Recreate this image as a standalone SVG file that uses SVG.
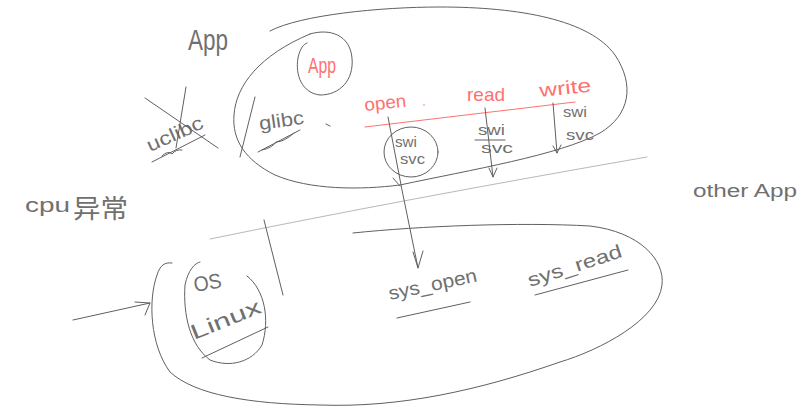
<svg xmlns="http://www.w3.org/2000/svg" width="805" height="414" viewBox="0 0 805 414">
<defs>
<style>
.ln{fill:none;stroke:#606060;stroke-width:1;stroke-linecap:round;stroke-linejoin:round}
.lt{fill:none;stroke:#b8b8b8;stroke-width:1;stroke-linecap:round}
.rd{fill:none;stroke:#ff7070;stroke-width:1;stroke-linecap:round}
.t{font-family:"Liberation Sans","Noto Sans CJK SC",sans-serif;fill:#707070;font-weight:normal}
.tr{font-family:"Liberation Sans",sans-serif;fill:#ff7070}
</style>
</defs>
<rect width="805" height="414" fill="#fff"/>

<g id="user-space">
<path class="ln" d="M270,31 C300,15 380,7 440,7 C520,7 590,20 615,55 C635,85 630,115 600,133 C560,155 470,170 400,185 C360,190 310,190 275,175 C245,160 232,140 234,115 C236,85 260,55 310,34"/>
</g>

<g id="app-label">
<text class="t" x="188" y="50" font-size="30" textLength="40" lengthAdjust="spacingAndGlyphs">App</text>
</g>

<g id="app-circle">
<path class="ln" d="M310,34 C330,28 350,35 352,58 C354,80 340,95 320,95 C302,93 295,75 298,58 C300,48 304,44 307,43"/>
<text class="tr" x="308" y="73" font-size="22" textLength="28" lengthAdjust="spacingAndGlyphs">App</text>
</g>

<g id="uclibc">
<text class="t" x="150" y="152" font-size="19" textLength="60" lengthAdjust="spacingAndGlyphs" transform="rotate(-24 150 152)">uclibc</text>
<path class="ln" d="M145,98 L218,148 M152,162 L205,135 M186,87 L176,148 M162,156 q6,-6 10,-2 q4,-5 10,-4"/>
</g>

<g id="glibc">
<path class="ln" d="M255,97 L240,157"/>
<text class="t" x="260" y="130" font-size="19" textLength="45" lengthAdjust="spacingAndGlyphs" transform="rotate(-8 260 130)">glibc</text>
<path class="ln" d="M258,152 L300,130 M262,150 q10,-2 14,-8 q8,0 18,-9"/>
<path class="ln" d="M326,124 L330,126"/>
</g>

<g id="syscalls">
<text class="tr" x="365" y="111" font-size="18" textLength="42" lengthAdjust="spacingAndGlyphs" transform="rotate(-6 365 111)">open</text>
<circle cx="424" cy="105" r="0.8" fill="#ff7070"/>
<text class="tr" x="467" y="101" font-size="19" textLength="38" lengthAdjust="spacingAndGlyphs">read</text>
<text class="tr" x="540" y="97" font-size="19" textLength="52" lengthAdjust="spacingAndGlyphs" transform="rotate(-6 540 97)">write</text>
<path class="rd" d="M365,127 L575,102"/>
</g>

<g id="svc-open">
<ellipse class="ln" cx="411" cy="152" rx="27" ry="25"/>
<text class="t" x="395" y="147" font-size="14" textLength="22" lengthAdjust="spacingAndGlyphs">swi</text>
<text class="t" x="400" y="164" font-size="14" textLength="25" lengthAdjust="spacingAndGlyphs">svc</text>
</g>

<g id="svc-read">
<text class="t" x="478" y="135" font-size="14" textLength="27" lengthAdjust="spacingAndGlyphs">swi</text>
<path class="ln" d="M475,140 L505,140"/>
<text class="t" x="481" y="153" font-size="14" textLength="32" lengthAdjust="spacingAndGlyphs">svc</text>
</g>

<g id="svc-write">
<text class="t" x="563" y="117" font-size="14" textLength="24" lengthAdjust="spacingAndGlyphs">swi</text>
<text class="t" x="566" y="140" font-size="14" textLength="28" lengthAdjust="spacingAndGlyphs">svc</text>
</g>

<g id="boundary">
<path class="lt" d="M210,239 Q400,200 647,157"/>
<path class="ln" d="M264,220 L283,295"/>
</g>

<g id="cpu-label">
<text class="t" x="25" y="212" font-size="20"><tspan textLength="45" lengthAdjust="spacingAndGlyphs">cpu</tspan><tspan x="73" y="218" font-size="26" textLength="55" lengthAdjust="spacingAndGlyphs">异常</tspan></text>
</g>

<g id="other-app">
<text class="t" x="693" y="197" font-size="18" textLength="104" lengthAdjust="spacingAndGlyphs">other App</text>
</g>

<g id="kernel">
<path class="ln" d="M353,233 C420,226 520,222 590,226 C640,232 665,260 662,285 C658,320 600,350 560,362 C480,390 400,408 320,405 C250,404 195,395 170,372 C150,345 148,300 157,275 C160,265 165,262 172,263"/>
</g>

<g id="os-linux">
<path class="ln" d="M247,276 C265,290 270,320 262,345 C252,362 230,368 210,360 C190,345 183,315 185,285 C188,270 195,263 200,262"/>
<text class="t" x="195" y="292" font-size="21" textLength="28" lengthAdjust="spacingAndGlyphs" transform="rotate(-10 195 292)">OS</text>
<text class="t" x="194" y="340" font-size="21" textLength="74" lengthAdjust="spacingAndGlyphs" transform="rotate(-22 194 340)">Linux</text>
<path class="ln" d="M202,358 L268,327"/>
</g>

<g id="sys-open">
<text class="t" x="390" y="300" font-size="19" textLength="90" lengthAdjust="spacingAndGlyphs" transform="rotate(-12 390 300)">sys_open</text>
<path class="ln" d="M397,318 L470,302"/>
</g>

<g id="sys-read">
<text class="t" x="530" y="287" font-size="19" textLength="98" lengthAdjust="spacingAndGlyphs" transform="rotate(-18 530 287)">sys_read</text>
<path class="ln" d="M535,295 L628,270"/>
</g>

<g id="connectors">
<path class="ln" d="M388,117 L402,190 L418,268 M413,252 L418,268 L423,251 M393,178 L400,186"/>
<path class="ln" d="M485,108 L493,177 M489,168 L493,177 L497,168"/>
<path class="ln" d="M553,103 L557,153 M553,146 L557,153 L561,145"/>
<path class="ln" d="M73,320 L150,303 M135,302 L150,303 L145,315"/>
</g>
</svg>
